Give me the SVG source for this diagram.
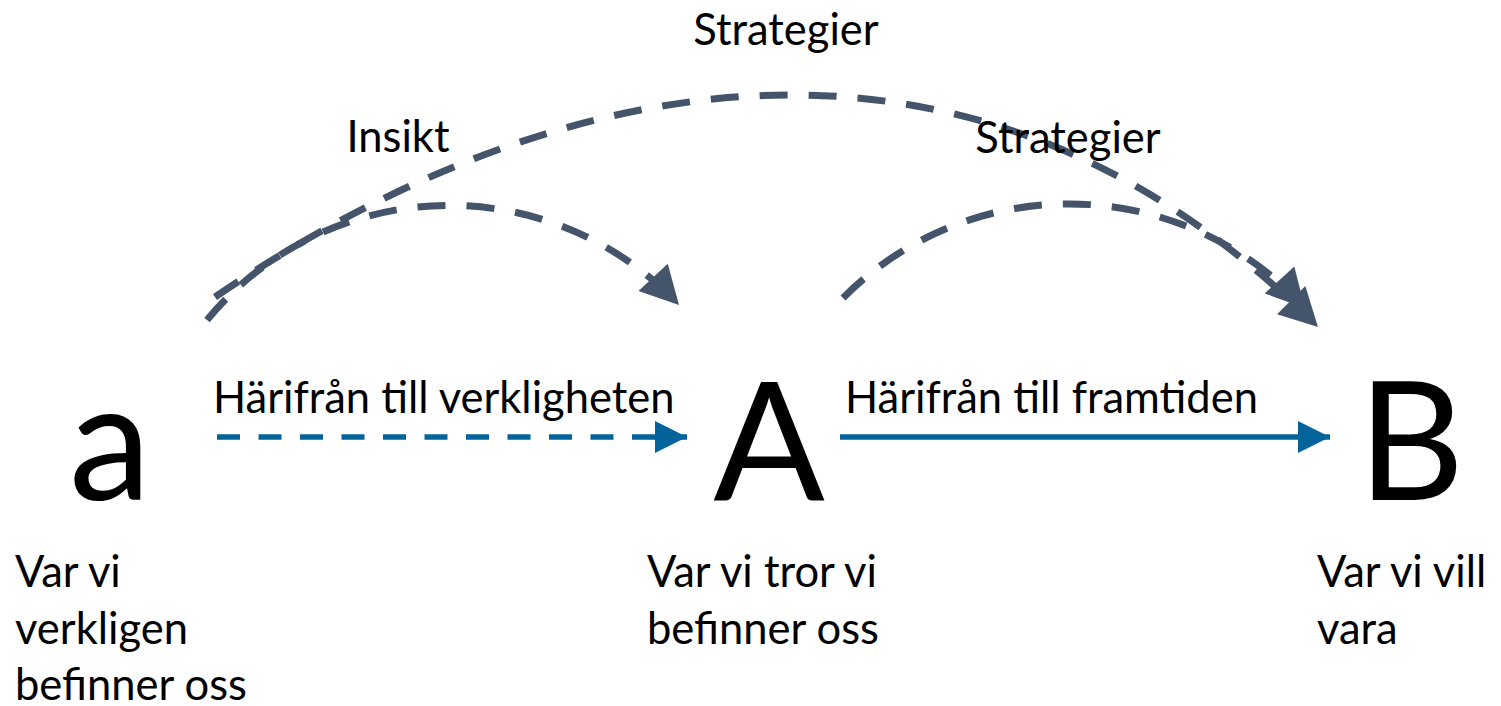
<svg xmlns="http://www.w3.org/2000/svg" width="1501" height="706" viewBox="0 0 1501 706">
<style>
text{font-family:Lato,"Open Sans","Liberation Sans",sans-serif;fill:#000}
.lbl{font-size:43.5px}
.big{font-size:165px}
.gray{fill:none;stroke:#44546A;stroke-width:7;stroke-dasharray:28 21}
.blue{fill:none;stroke:#05639C;stroke-width:5.5}
.bdash{stroke-dasharray:23 18.5}
</style>
<defs>
<marker id="ga" markerUnits="userSpaceOnUse" markerWidth="40" markerHeight="40" viewBox="0 0 36 38" refX="36" refY="19" orient="auto">
<path d="M0,0 L36,19 L0,38 Z" fill="#44546A"/>
</marker>
<marker id="ba" markerUnits="userSpaceOnUse" markerWidth="32" markerHeight="32" viewBox="0 0 30 30" refX="30" refY="15" orient="auto">
<path d="M0,0 L30,15 L0,30 Z" fill="#05639C"/>
</marker>
</defs>
<g id="connectors">
<path id="c-insikt" class="gray" d="M207,320 A314,314 0 0 1 679,305" marker-end="url(#ga)"/>
<path id="c-strat-big" class="gray" d="M215,297 C515,93 948,-43 1318,327" marker-end="url(#ga)"/>
<path id="c-strat-small" class="gray" d="M843,298 A319,319 0 0 1 1305,308" marker-end="url(#ga)"/>
<path id="c-verklighet" class="blue bdash" d="M217,437 L687,437" marker-end="url(#ba)"/>
<path id="c-framtid" class="blue" d="M840,437 L1330,437" marker-end="url(#ba)"/>
</g>
<g id="labels">
<text class="lbl" x="786" y="45" text-anchor="middle">Strategier</text>
<text class="lbl" x="398" y="152" text-anchor="middle">Insikt</text>
<text class="lbl" x="1068" y="153" text-anchor="middle">Strategier</text>
<text class="lbl" x="213" y="413">Härifrån till verkligheten</text>
<text class="lbl" x="845" y="413">Härifrån till framtiden</text>
</g>
<g id="node-a">
<text class="big" x="110" y="500" text-anchor="middle">a</text>
<text class="lbl" x="15" y="587">Var vi</text>
<text class="lbl" x="15" y="644">verkligen</text>
<text class="lbl" x="15" y="700">befinner oss</text>
</g>
<g id="node-A">
<text class="big" x="769" y="500" text-anchor="middle">A</text>
<text class="lbl" x="647" y="587">Var vi tror vi</text>
<text class="lbl" x="647" y="644">befinner oss</text>
</g>
<g id="node-B">
<text class="big" x="1411" y="500" text-anchor="middle">B</text>
<text class="lbl" x="1317" y="587">Var vi vill</text>
<text class="lbl" x="1317" y="644">vara</text>
</g>
</svg>
